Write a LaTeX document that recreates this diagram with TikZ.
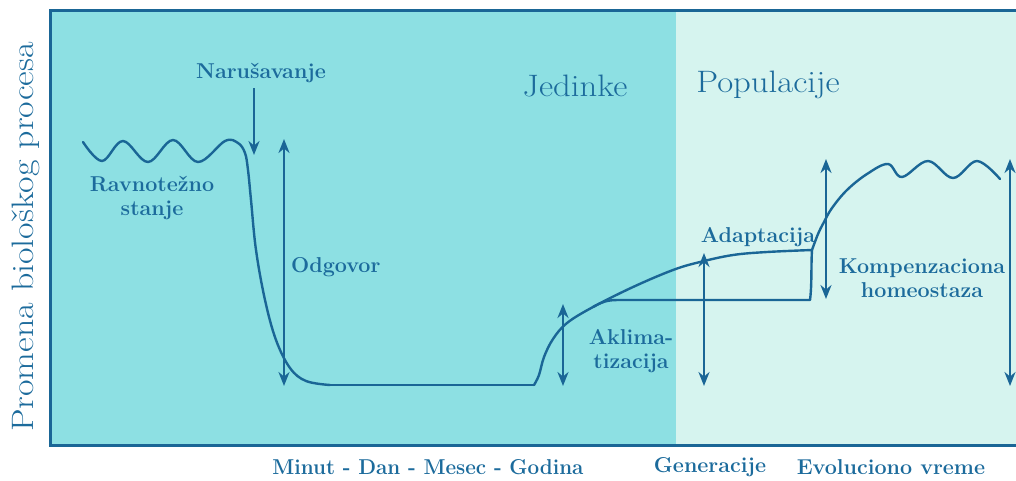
\documentclass[tikz,border=0pt]{standalone}
\usetikzlibrary{arrows.meta}
\definecolor{ln}{HTML}{1A6696}
\definecolor{tx}{HTML}{1C6B9C}
\definecolor{darkbg}{HTML}{8DE0E3}
\definecolor{lightbg}{HTML}{D6F4EF}
\tikzset{
  curve/.style={draw=ln, line width=2.4pt, line join=round, line cap=round},
  frame/.style={draw=ln, line width=3pt},
  darr/.style={draw=ln, line width=2.6pt, {Stealth[length=14pt,width=11pt]}-{Stealth[length=14pt,width=11pt]}},
  sarr/.style={draw=ln, line width=2.6pt, -{Stealth[length=14pt,width=11pt]}},
  lbl/.style={text=tx, font=\fontsize{21.5}{24}\selectfont\bfseries, align=center, inner sep=0pt},
  big/.style={text=tx, font=\fontsize{31}{34}\selectfont, inner sep=0pt},
}
\begin{document}
\begin{tikzpicture}[x=1pt,y=-1pt]
\useasboundingbox (0,0) rectangle (1016,480);
% backgrounds
\fill[darkbg] (50,10) rectangle (676,445);
\fill[lightbg] (676,10) rectangle (1016,445);
% frame
\draw[frame] (1016,10) -- (50,10) -- (50,445) -- (1016,445);
% y label
\node[big, rotate=90, xscale=1.16] (ylab) at (26,237) {Promena biološkog procesa};
% titles
\node[big, xscale=1.12] (jed) at (575,86) {Jedinke};
\node[big, xscale=1.12] (pop) at (768,85) {Populacije};
% labels
\node[lbl] (nar) at (261,73) {Narušavanje};
\node[lbl] (rav) at (152,198) {Ravnotežno\\stanje};
\node[lbl, anchor=west] (odg) at (291,267) {Odgovor};
\node[lbl] (akl) at (631,351) {Aklima-\\tizacija};
\node[lbl] (ada) at (758,237) {Adaptacija};
\node[lbl] (kom) at (922,278) {Kompenzaciona\\homeostaza};
\node[lbl, xscale=0.96] (t1) at (428,467) {Minut - Dan - Mesec - Godina};
\node[lbl] (t2) at (710,467) {Generacije};
\node[lbl] (t3) at (891,467) {Evoluciono vreme};
% arrow coordinates
\coordinate (n0) at (254,88);
\coordinate (n1) at (254,155);
\coordinate (o0) at (284,139);
\coordinate (o1) at (284,386);
\coordinate (a0) at (563,304);
\coordinate (a1) at (563,386);
\coordinate (g0) at (704,253);
\coordinate (g1) at (704,386);
\coordinate (k0) at (826,159);
\coordinate (k1) at (826,299);
\coordinate (r0) at (1010,159);
\coordinate (r1) at (1010,386);
% arrows
\draw[sarr] (n0) -- (n1);
\draw[darr] (o0) -- (o1);
\draw[darr] (a0) -- (a1);
\draw[darr] (g0) -- (g1);
\draw[darr] (k0) -- (k1);
\draw[darr] (r0) -- (r1);
% main curve
\coordinate (c0) at (330,385);
\coordinate (c1) at (534,385);
\draw[curve] plot[smooth, tension=0.6] coordinates {(83,142) (102,161) (123,141) (148,162) (173,140) (198,162) (225,141) (238,143) (245,153) (248,170) (251,200) (256,250) (265,300) (276,340) (290,368) (306,381) (330,385)};
\draw[curve] (c0) -- (c1);
\coordinate (split) at (593,307);
\coordinate (kink) at (812,250);
\draw[curve] plot[smooth, tension=0.6] coordinates {(534,385) (539,375) (544,357) (553,339) (567,323) (593,307) (633,287) (673,270) (700,262) (733,255) (767,252) (812,250)};
\draw[curve] plot[smooth, tension=0.6] coordinates {(812,250) (818,234) (824,222) (832,208) (847,190) (867,174) (888,164) (902,177) (928,161) (953,178) (977,161) (1000,179)};
% lower branch
\draw[curve] (split) .. controls (602,302) and (607,300) .. (618,300) -- (810,300) .. controls (812,285) and (811,265) .. (kink);
\end{tikzpicture}
\end{document}
